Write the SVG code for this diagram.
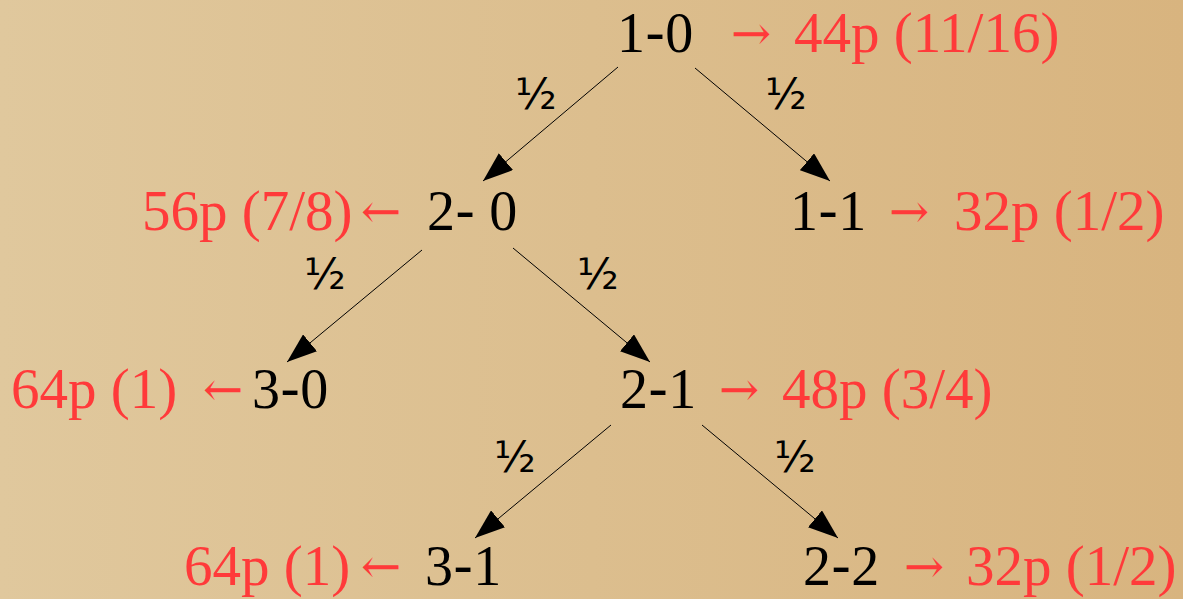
<svg xmlns="http://www.w3.org/2000/svg" width="1183" height="599" viewBox="0 0 1183 599">
  <style>
    .st { font-family: "Liberation Serif", "Times New Roman", serif; font-size: 56px; fill: #000; }
    .hy { font-family: "DejaVu Sans", sans-serif; }
    .res { font-family: "Liberation Serif", "Times New Roman", serif; font-size: 57px; fill: #ff3a3a; }
    .ar { font-family: "DejaVu Serif", serif; font-size: 48px; fill: #ff3a3a; }
    .pr { font-family: "DejaVu Sans", sans-serif; font-size: 43px; fill: #000; }
    .edge { stroke: #000; stroke-width: 1; fill: none; marker-end: url(#ah); }
  </style>
  <defs>
    <linearGradient id="bg" x1="0" y1="0" x2="1" y2="0">
      <stop offset="0" stop-color="#e0c89d"/>
      <stop offset="1" stop-color="#d8b47f"/>
    </linearGradient>
    <marker id="ah" viewBox="0 0 30 22" refX="30" refY="11" markerWidth="30" markerHeight="22" markerUnits="userSpaceOnUse" orient="auto">
      <path d="M0,0 L30,11 L0,22 Z" fill="#000"/>
    </marker>
  </defs>
  <rect x="0" y="0" width="1183" height="599" fill="url(#bg)"/>

  <g id="connectors">
    <line class="edge" x1="618" y1="67" x2="483" y2="181"/>
    <line class="edge" x1="695" y1="68" x2="830" y2="181"/>
    <line class="edge" x1="422" y1="250" x2="287" y2="362"/>
    <line class="edge" x1="513" y1="248" x2="650" y2="362"/>
    <line class="edge" x1="611" y1="425" x2="475" y2="538"/>
    <line class="edge" x1="702" y1="425" x2="838" y2="538"/>
    <text class="pr" x="515" y="109">½</text>
    <text class="pr" x="765" y="109">½</text>
    <text class="pr" x="304" y="289">½</text>
    <text class="pr" x="577" y="289">½</text>
    <text class="pr" x="494" y="472">½</text>
    <text class="pr" x="774" y="472">½</text>
  </g>

  <g id="n10">
    <text class="st" x="617" y="52">1<tspan class="hy">-</tspan>0</text>
    <text class="ar" x="731" y="50">→</text>
    <text class="res" x="794" y="52">44p (11/16)</text>
  </g>
  <g id="n20">
    <text class="res" x="142" y="230">56p (7/8)</text>
    <text class="ar" x="361" y="228">←</text>
    <text class="st" x="427" y="230">2<tspan class="hy">-</tspan> 0</text>
  </g>
  <g id="n11">
    <text class="st" x="790" y="230">1<tspan class="hy">-</tspan>1</text>
    <text class="ar" x="889" y="228">→</text>
    <text class="res" x="954" y="230">32p (1/2)</text>
  </g>
  <g id="n30">
    <text class="res" x="11" y="408">64p (1)</text>
    <text class="ar" x="203" y="406">←</text>
    <text class="st" x="252" y="408">3<tspan class="hy">-</tspan>0</text>
  </g>
  <g id="n21">
    <text class="st" x="620" y="408">2<tspan class="hy">-</tspan>1</text>
    <text class="ar" x="719" y="406">→</text>
    <text class="res" x="782" y="408">48p (3/4)</text>
  </g>
  <g id="n31">
    <text class="res" x="184" y="585">64p (1)</text>
    <text class="ar" x="361" y="583">←</text>
    <text class="st" x="425" y="585">3<tspan class="hy">-</tspan>1</text>
  </g>
  <g id="n22">
    <text class="st" x="803" y="585">2<tspan class="hy">-</tspan>2</text>
    <text class="ar" x="904" y="583">→</text>
    <text class="res" x="966" y="585">32p (1/2)</text>
  </g>
</svg>
